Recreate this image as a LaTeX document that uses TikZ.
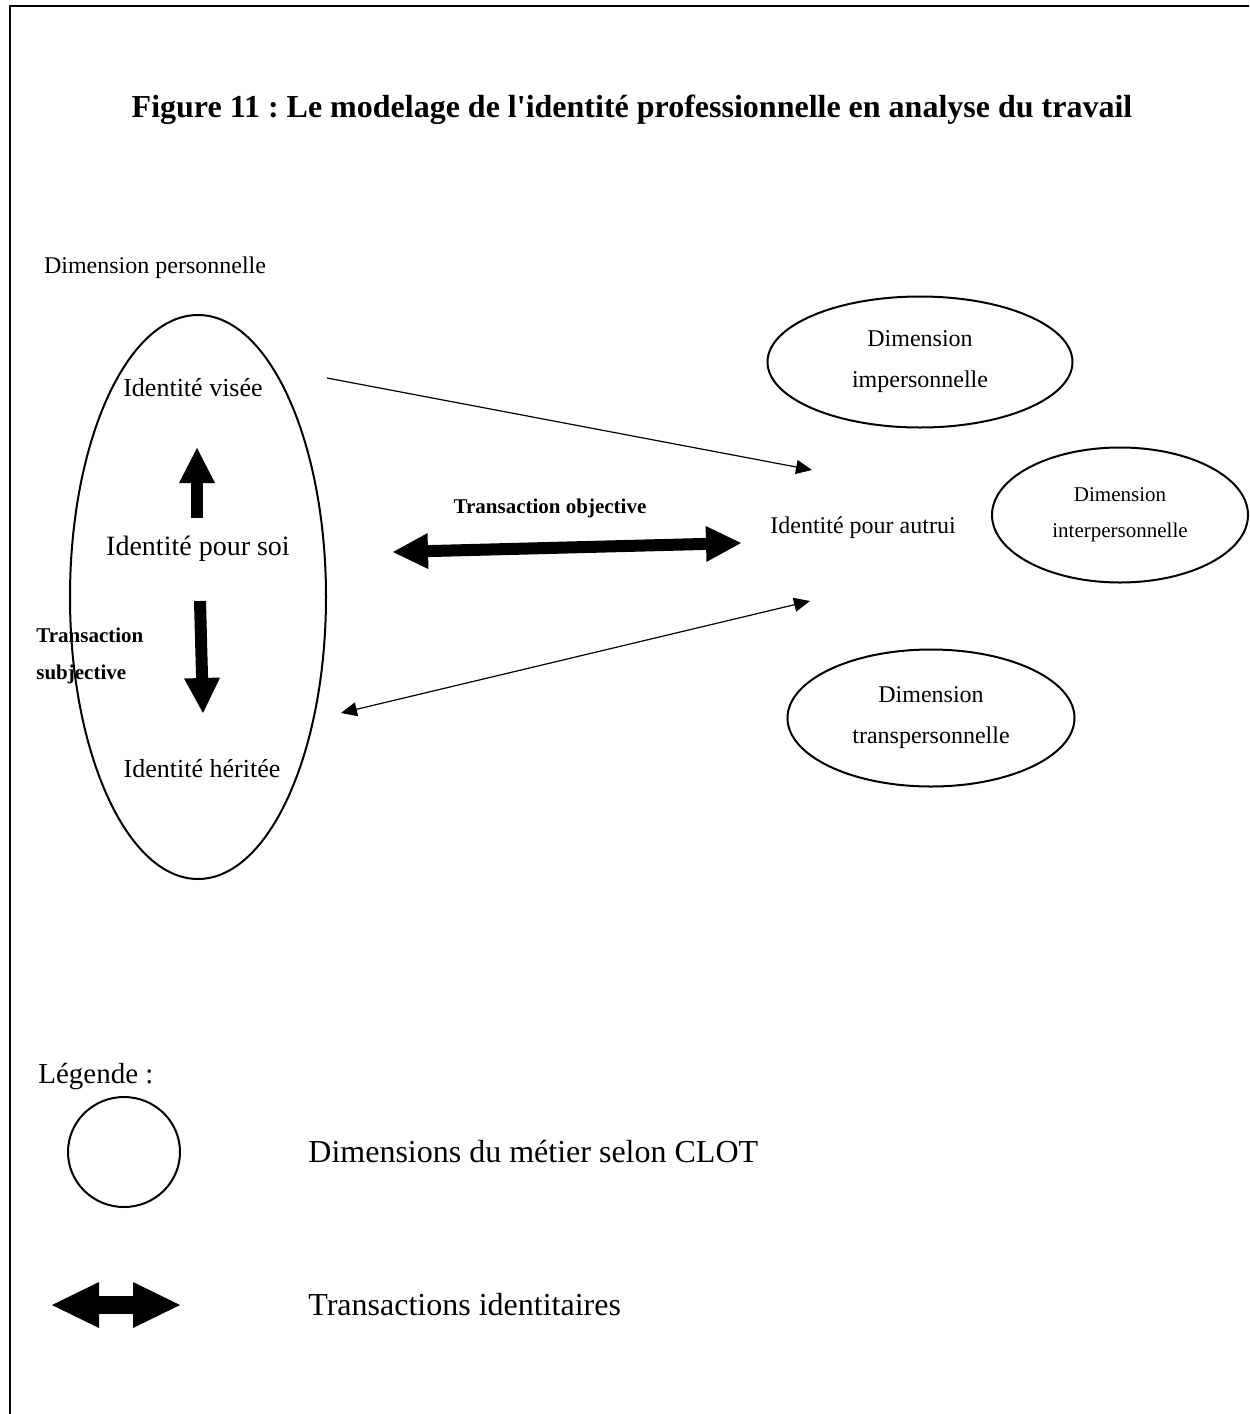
\documentclass[tikz,border=0pt]{standalone}
\usepackage{fontspec}
\setmainfont{Liberation Serif}
\frenchspacing
\usetikzlibrary{positioning,arrows.meta,shapes.geometric}
\tikzset{
  dim/.style={draw,ellipse,line width=1pt,inner sep=0pt,align=center},
  txt/.style={anchor=base,inner sep=0pt},
  fin/.style={line width=0.6pt,-{Triangle[length=8pt,width=7pt]}},
  findouble/.style={line width=0.6pt,{Triangle[length=8pt,width=7pt]}-{Triangle[length=8pt,width=7pt]}},
  bloc/.style={line width=6pt,-{Triangle[length=17.5pt,width=18pt,line width=0pt]}},
  blocdouble/.style={line width=6pt,{Triangle[length=17.5pt,width=18pt,line width=0pt]}-{Triangle[length=17.5pt,width=18pt,line width=0pt]}},
  legbloc/.style={line width=9pt,{Triangle[length=23.5pt,width=23pt,line width=0pt]}-{Triangle[length=23.5pt,width=23pt,line width=0pt]}},
}

\begin{document}
\begin{tikzpicture}[x=0.5pt,y=-0.5pt]
  \useasboundingbox (0,0) rectangle (1249,1414);
  % cadre
  \draw[line width=1pt] (10,1414) -- (10,6) -- (1249,6);
  \node[txt,font=\fontsize{16}{19}\selectfont\bfseries] (titre) at (632,117)
    {Figure 11 : Le modelage de l\textquotesingle identité professionnelle en analyse du travail};

  % dimension personnelle
  \node[txt,font=\fontsize{12}{14}\selectfont] (perso) at (155,273) {Dimension personnelle};
  \node[dim,minimum width=128pt,minimum height=282pt] (moi) at (198,597) {};
  \node[txt,font=\fontsize{13}{15}\selectfont] (visee) at (193,396) {Identité visée};
  \node[txt,font=\fontsize{14}{16}\selectfont] (soi) at (198,555) {Identité pour soi};
  \node[txt,font=\fontsize{13}{15}\selectfont] (heritee) at (202,777) {Identité héritée};
  \node[anchor=west,inner sep=0pt,align=left,font=\fontsize{10.5}{18.5}\selectfont\bfseries] (subj) at (36,656)
    {Transaction\\subjective};

  % autres dimensions
  \node[dim,minimum width=152.5pt,minimum height=65.5pt,font=\fontsize{12}{20.5}\selectfont] (imp) at (920,362)
    {Dimension\\impersonnelle};
  \node[dim,minimum width=128pt,minimum height=67.5pt,font=\fontsize{10.5}{18}\selectfont] (inter) at (1120,515)
    {Dimension\\interpersonnelle};
  \node[dim,minimum width=143.5pt,minimum height=68.5pt,font=\fontsize{12}{20.5}\selectfont] (trans) at (931,718)
    {Dimension\\transpersonnelle};
  \node[txt,font=\fontsize{12}{14}\selectfont] (autrui) at (863,533) {Identité pour autrui};
  \node[txt,font=\fontsize{10.5}{12}\selectfont\bfseries] (tobj) at (550,513) {Transaction objective};

  % transactions
  \coordinate (haut1) at (197,518);  \coordinate (haut2) at (197,448);
  \coordinate (bas1) at (200,601);   \coordinate (bas2) at (203,713);
  \coordinate (obj1) at (393,552);   \coordinate (obj2) at (741,543);
  \coordinate (vis1) at (327,378);   \coordinate (vis2) at (812,470);
  \coordinate (her1) at (341,713);   \coordinate (her2) at (810,601);
  \draw[bloc] (haut1) -- (haut2);
  \draw[bloc] (bas1) -- (bas2);
  \draw[blocdouble] (obj1) -- (obj2);
  \draw[fin] (vis1) -- (vis2);
  \draw[findouble] (her1) -- (her2);

  % legende
  \node[txt,anchor=base west,font=\fontsize{14.5}{17}\selectfont] (leg) at (38,1083) {Légende :};
  \node[dim,minimum width=56pt,minimum height=55pt] (legcercle) at (124,1152) {};
  \node[txt,anchor=base west,font=\fontsize{16}{19}\selectfont] (legdim) at (308,1162) {Dimensions du métier selon CLOT};
  \coordinate (leg1) at (52,1305);  \coordinate (leg2) at (180,1305);
  \draw[legbloc] (leg1) -- (leg2);
  \node[txt,anchor=base west,font=\fontsize{16}{19}\selectfont] (legtrans) at (308,1315) {Transactions identitaires};
\end{tikzpicture}
\end{document}
